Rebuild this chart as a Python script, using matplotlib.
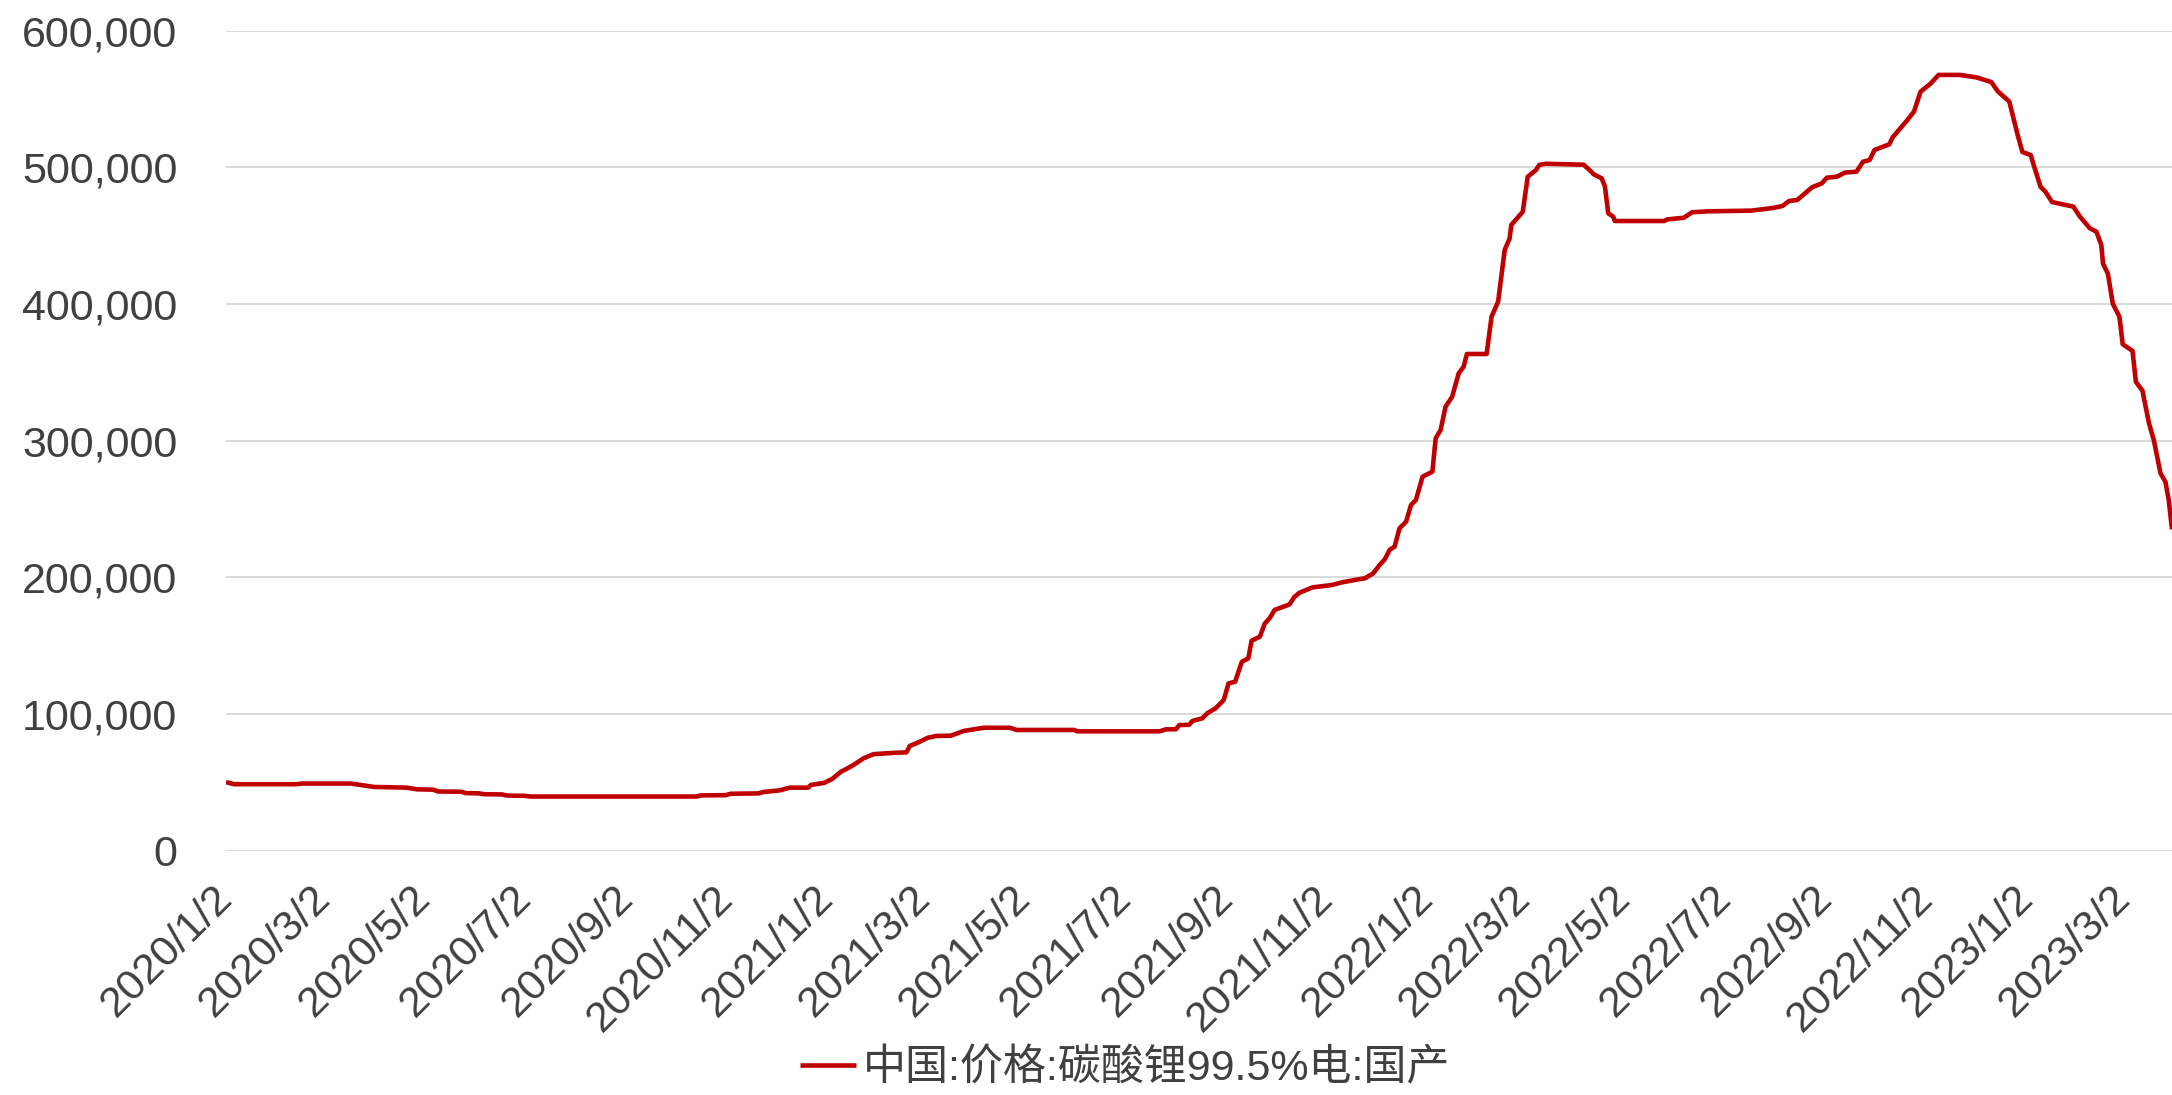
import matplotlib
matplotlib.use("Agg")
import matplotlib.pyplot as plt
from matplotlib.ticker import FuncFormatter
import pandas as pd

# 中国:价格:碳酸锂99.5%电:国产 (元/吨)
dates = [
    "2020-01-02", "2020-01-07", "2020-02-14", "2020-02-17", "2020-03-18", "2020-04-01",
    "2020-04-21", "2020-04-27", "2020-05-07", "2020-05-10", "2020-05-24", "2020-05-27",
    "2020-06-04", "2020-06-07", "2020-06-18", "2020-06-21", "2020-07-02", "2020-07-05",
    "2020-10-14", "2020-10-17", "2020-11-01", "2020-11-04", "2020-11-21", "2020-11-24",
    "2020-12-04", "2020-12-10", "2020-12-21", "2020-12-23", "2020-12-31",
    "2021-01-05", "2021-01-10", "2021-01-17", "2021-01-24", "2021-01-30", "2021-02-12",
    "2021-02-19", "2021-02-21", "2021-02-27", "2021-03-04", "2021-03-09", "2021-03-18",
    "2021-03-26", "2021-04-07", "2021-04-23", "2021-04-27", "2021-06-01", "2021-06-03",
    "2021-07-23", "2021-07-27", "2021-08-02", "2021-08-04", "2021-08-10", "2021-08-12",
    "2021-08-18", "2021-08-21", "2021-08-26", "2021-08-31", "2021-09-03", "2021-09-07",
    "2021-09-11", "2021-09-15", "2021-09-17", "2021-09-22", "2021-09-25", "2021-09-28",
    "2021-10-01", "2021-10-10", "2021-10-13", "2021-10-16", "2021-10-24", "2021-11-05",
    "2021-11-11", "2021-11-19", "2021-11-25", "2021-11-30", "2021-12-04", "2021-12-07",
    "2021-12-10", "2021-12-13", "2021-12-16", "2021-12-20", "2021-12-23", "2021-12-26",
    "2021-12-30", "2022-01-05", "2022-01-07", "2022-01-10", "2022-01-13", "2022-01-17",
    "2022-01-21", "2022-01-24", "2022-01-26", "2022-02-07", "2022-02-10", "2022-02-14",
    "2022-02-18", "2022-02-21", "2022-02-22", "2022-03-01", "2022-03-04", "2022-03-09",
    "2022-03-11", "2022-03-15", "2022-04-07", "2022-04-11", "2022-04-13", "2022-04-18",
    "2022-04-20", "2022-04-22", "2022-04-25", "2022-04-26", "2022-05-26", "2022-05-28",
    "2022-06-07", "2022-06-12", "2022-06-22", "2022-07-18", "2022-07-31", "2022-08-06",
    "2022-08-10", "2022-08-15", "2022-08-24", "2022-08-30", "2022-09-02", "2022-09-08",
    "2022-09-13", "2022-09-20", "2022-09-24", "2022-09-28", "2022-10-01", "2022-10-10",
    "2022-10-12", "2022-10-21", "2022-10-25", "2022-10-29", "2022-11-04", "2022-11-09",
    "2022-11-22", "2022-12-02", "2022-12-11", "2022-12-15", "2022-12-22", "2022-12-27",
    "2022-12-30", "2023-01-04", "2023-01-06", "2023-01-10", "2023-01-13", "2023-01-17",
    "2023-01-30", "2023-02-03", "2023-02-09", "2023-02-13", "2023-02-16", "2023-02-17",
    "2023-02-20", "2023-02-23", "2023-02-27", "2023-03-01", "2023-03-07", "2023-03-09",
    "2023-03-13", "2023-03-17", "2023-03-20", "2023-03-24", "2023-03-27", "2023-03-29",
    "2023-03-31",
]
prices = [
    50000, 48500, 48500, 49000, 49000, 46500,
    46000, 44800, 44500, 43200, 43000, 42000,
    41800, 41200, 41000, 40200, 40000, 39500,
    39500, 40300, 40500, 41500, 41800, 42800,
    44000, 46000, 46000, 48000, 49500,
    52500, 57500, 62000, 67500, 70500, 71500,
    71800, 76500, 79500, 82500, 83800, 84000,
    87500, 89800, 89800, 88200, 88200, 87200,
    87200, 88700, 88700, 91800, 92000, 94800,
    96700, 100400, 104000, 110000, 122300, 123500,
    138000, 140600, 153500, 156400, 166000, 170000,
    176000, 180000, 185500, 188500, 192500, 194300,
    196200, 198000, 199200, 202800, 209000, 213000,
    220000, 222300, 235700, 240600, 252800, 256500,
    273500, 277200, 301600, 307700, 324700, 332000,
    349100, 354000, 363300, 363300, 390600, 401600,
    439400, 447900, 457700, 467400, 493000, 497900,
    501600, 502500, 501800, 497500, 494900, 491800,
    485700, 466200, 463800, 460600, 460600, 461800,
    463000, 467000, 467700, 468200, 470100, 471600,
    475200, 476000, 485300, 488200, 492300, 493000,
    496000, 496700, 504000, 505200, 512600, 516700,
    521800, 534500, 540600, 555200, 561000, 567500,
    567500, 565700, 562300, 555500, 548000, 524000,
    511000, 508900, 501000, 485700, 482000, 474500,
    471100, 463800, 455300, 452800, 443000, 429600,
    422000, 400000, 390600, 370500, 365500, 343000,
    336500, 312600, 300000, 276000, 269800, 256500,
    235000,
]
series_name = "中国:价格:碳酸锂99.5%电:国产"

tick_labels = [
    "2020/1/2", "2020/3/2", "2020/5/2", "2020/7/2", "2020/9/2", "2020/11/2",
    "2021/1/2", "2021/3/2", "2021/5/2", "2021/7/2", "2021/9/2", "2021/11/2",
    "2022/1/2", "2022/3/2", "2022/5/2", "2022/7/2", "2022/9/2", "2022/11/2",
    "2023/1/2", "2023/3/2",
]
y_ticks = [0, 100000, 200000, 300000, 400000, 500000, 600000]

TEXT = "#404040"
LINE = "#C00000"
GRID = "#D9D9D9"
LATIN = "Liberation Sans"
FS = 31

x = pd.to_datetime(dates)
tick_dates = pd.to_datetime(tick_labels, format="%Y/%m/%d")

fig = plt.figure(figsize=(21.72, 10.95), dpi=100)
ax = fig.add_axes([226 / 2172, 1 - 850.5 / 1095, 1 - 226 / 2172, 820 / 1095])

ax.plot(x, prices, color=LINE, linewidth=3.3, solid_joinstyle="round",
        solid_capstyle="butt", label=series_name, zorder=3)

ax.set_xlim(x[0], x[-1])
ax.set_ylim(y_ticks[0], y_ticks[-1])

ax.set_yticks(y_ticks)
ax.yaxis.set_major_formatter(FuncFormatter(lambda v, _: f"{int(v):,}"))
ax.set_xticks(tick_dates)
ax.set_xticklabels(tick_labels)

ax.grid(axis="y", color=GRID, linewidth=1.4, zorder=0)
ax.set_axisbelow(True)
for s in ax.spines.values():
    s.set_visible(False)

ax.tick_params(axis="both", length=0, labelsize=FS, labelcolor=TEXT)
ax.tick_params(axis="y", pad=35)
ax.tick_params(axis="x", pad=30)
for lab in ax.get_yticklabels():
    lab.set_family(LATIN)
for lab in ax.get_xticklabels():
    lab.set_family(LATIN)
    lab.set_rotation(45)
    lab.set_rotation_mode("anchor")
    lab.set_ha("right")
    lab.set_va("center")

leg = fig.legend(loc="center", bbox_to_anchor=(0.518, 0.024), frameon=False,
                 handlelength=1.3, handletextpad=0.15,
                 prop={"family": [LATIN, "Noto Sans CJK SC"], "size": FS})
for t in leg.get_texts():
    t.set_color(TEXT)

fig.savefig("out.png", dpi=100, facecolor="white")
